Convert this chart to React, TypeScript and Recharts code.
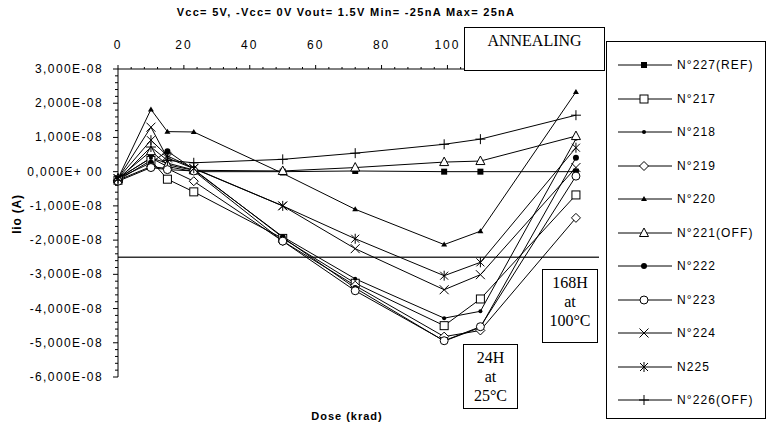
import React from "react";
import { LineChart, Line, XAxis, YAxis, ReferenceLine } from "recharts";

// dose (krad); the last two points are the annealing steps
const DOSE = [0, 10, 15, 23, 50, 72, 99, 110, 139];

// Iio in nA (1 nA = 1E-09 A)
const N227_REF = [-2, 4, 1.5, 0, 0, 0.2, 0, 0, 0];
const N217 = [-2.5, 3.3, -2.2, -5.9, -19.5, -32.6, -45, -37.2, -6.8];
const N218 = [-2, 4, 2.5, 0.5, -19, -31.3, -42.8, -40.8, 9.6];
const N219 = [-2.5, 1.5, 0.9, -2.8, -20.3, -33.3, -48.2, -46.4, -13.5];
const N220 = [-2, 18.2, 11.7, 11.6, -0.5, -11, -21.3, -17.4, 23.3];
const N221_OFF = [-2, 6, 2, 0.4, 0.2, 1.2, 2.8, 3.1, 10.4];
const N222 = [-2, 2.6, 6, 0.7, -19.2, -34, -49.5, -45.5, 4.1];
const N223 = [-2.8, 1.2, 0.6, 0.2, -20.3, -34.8, -49.4, -45.3, -1.3];
const N224 = [-2, 13, 4, 0.9, -10, -22.5, -34.5, -30.1, 1.2];
const N225 = [-2, 9.2, 4.6, 1, -10, -19.6, -30.4, -26.5, 7];
const N226_OFF = [-2.5, 7.2, 3.3, 2.6, 3.6, 5.4, 8, 9.5, 16.5];

const MIN_LIMIT = -25;

const X_LABELED = [0, 20, 40, 60, 80, 100];
const Y_MAJOR = [30, 20, 10, 0, -10, -20, -30, -40, -50, -60];
const Y_LABELS = [
  "3,000E-08",
  "2,000E-08",
  "1,000E-08",
  "0,000E+ 00",
  "-1,000E-08",
  "-2,000E-08",
  "-3,000E-08",
  "-4,000E-08",
  "-5,000E-08",
  "-6,000E-08",
];

const SERIES = [
  { key: "n227", name: "N°227(REF)", values: N227_REF, marker: "sqFill" },
  { key: "n217", name: "N°217", values: N217, marker: "sqOpen" },
  { key: "n218", name: "N°218", values: N218, marker: "dotSmall" },
  { key: "n219", name: "N°219", values: N219, marker: "diamond" },
  { key: "n220", name: "N°220", values: N220, marker: "triSmall" },
  { key: "n221", name: "N°221(OFF)", values: N221_OFF, marker: "triOpen" },
  { key: "n222", name: "N°222", values: N222, marker: "dotBig" },
  { key: "n223", name: "N°223", values: N223, marker: "circleOpen" },
  { key: "n224", name: "N°224", values: N224, marker: "cross" },
  { key: "n225", name: "N225", values: N225, marker: "asterisk" },
  { key: "n226", name: "N°226(OFF)", values: N226_OFF, marker: "plus" },
];

const rows = DOSE.map((d, i) => {
  const r: Record<string, number> = { dose: d };
  SERIES.forEach((s) => (r[s.key] = s.values[i]));
  return r;
});

const X_TICKS: number[] = [];
for (let v = 0; v <= 144; v += 4) X_TICKS.push(v);
const Y_TICKS: number[] = [];
for (let v = -60; v <= 30; v += 2) Y_TICKS.push(v);

const SANS = "'Liberation Sans', Arial, sans-serif";
const SERIF = "'Liberation Serif', 'Times New Roman', serif";

function Marker({ kind, cx, cy }: { kind: string; cx: number; cy: number }) {
  if (cx == null || cy == null) return null;
  const k = "#000";
  switch (kind) {
    case "sqFill":
      return <rect x={cx - 3} y={cy - 3} width={6} height={6} fill={k} />;
    case "sqOpen":
      return <rect x={cx - 4} y={cy - 4} width={8} height={8} fill="#fff" stroke={k} />;
    case "dotSmall":
      return <circle cx={cx} cy={cy} r={2} fill={k} />;
    case "diamond":
      return (
        <polygon
          points={`${cx},${cy - 4.5} ${cx + 4.5},${cy} ${cx},${cy + 4.5} ${cx - 4.5},${cy}`}
          fill="#fff"
          stroke={k}
        />
      );
    case "triSmall":
      return <polygon points={`${cx},${cy - 3} ${cx + 3},${cy + 2} ${cx - 3},${cy + 2}`} fill={k} />;
    case "triOpen":
      return (
        <polygon
          points={`${cx},${cy - 5} ${cx + 4.5},${cy + 3.5} ${cx - 4.5},${cy + 3.5}`}
          fill="#fff"
          stroke={k}
        />
      );
    case "dotBig":
      return <circle cx={cx} cy={cy} r={3} fill={k} />;
    case "circleOpen":
      return <circle cx={cx} cy={cy} r={4} fill="#fff" stroke={k} />;
    case "cross":
      return (
        <g stroke={k}>
          <line x1={cx - 4.5} y1={cy - 4.5} x2={cx + 4.5} y2={cy + 4.5} />
          <line x1={cx - 4.5} y1={cy + 4.5} x2={cx + 4.5} y2={cy - 4.5} />
        </g>
      );
    case "asterisk":
      return (
        <g stroke={k}>
          <line x1={cx - 4} y1={cy - 4} x2={cx + 4} y2={cy + 4} />
          <line x1={cx - 4} y1={cy + 4} x2={cx + 4} y2={cy - 4} />
          <line x1={cx} y1={cy - 5} x2={cx} y2={cy + 5} />
        </g>
      );
    case "plus":
      return (
        <g stroke={k}>
          <line x1={cx - 5} y1={cy} x2={cx + 5} y2={cy} />
          <line x1={cx} y1={cy - 5} x2={cx} y2={cy + 5} />
        </g>
      );
    default:
      return null;
  }
}

function XTick(props: any) {
  const { x, y, payload } = props;
  const v = payload.value;
  const major = v % 20 === 0;
  return (
    <g>
      <line x1={x} x2={x} y1={y} y2={y - (major ? 4 : 2)} stroke="#000" />
      {X_LABELED.includes(v) && (
        <text x={x} y={y - 20} textAnchor="middle" fontSize={12} fontFamily={SANS} letterSpacing={2} fill="#000">
          {v}
        </text>
      )}
    </g>
  );
}

function YTick(props: any) {
  const { x, y, payload } = props;
  const v = payload.value;
  const idx = Y_MAJOR.indexOf(v);
  return (
    <g>
      <line x1={x} x2={x - (idx >= 0 ? 5 : 3)} y1={y} y2={y} stroke="#000" />
      {idx >= 0 && (
        <text x={x - 15} y={y + 4} textAnchor="end" fontSize={12} fontFamily={SANS} letterSpacing={1.4} fill="#000">
          {Y_LABELS[idx]}
        </text>
      )}
    </g>
  );
}

const boxStyle: React.CSSProperties = {
  position: "absolute",
  boxSizing: "border-box",
  border: "1.5px solid #000",
  background: "#fff",
  fontFamily: SERIF,
  fontSize: 16,
  textAlign: "center",
  color: "#000",
};

export default function App() {
  return (
    <div style={{ position: "absolute", left: 0, top: 0, width: 771, height: 426, background: "#fff" }}>
      <LineChart width={771} height={426} data={rows} margin={{ top: 39, right: 172, bottom: 49, left: 0 }}>
        <XAxis
          xAxisId={0}
          type="number"
          dataKey="dose"
          orientation="top"
          domain={[0, 146]}
          ticks={X_TICKS}
          interval={0}
          height={30}
          tickSize={0}
          tickMargin={0}
          tickLine={false}
          tick={<XTick />}
          axisLine={{ stroke: "#000" }}
        />
        <YAxis
          yAxisId={0}
          type="number"
          domain={[-60, 30]}
          ticks={Y_TICKS}
          interval={0}
          width={118}
          tickSize={0}
          tickMargin={0}
          tickLine={false}
          tick={<YTick />}
          axisLine={{ stroke: "#000" }}
        />
        <ReferenceLine y={MIN_LIMIT} stroke="#333" strokeWidth={1.5} />
        {SERIES.map((s) => (
          <Line
            key={s.key}
            dataKey={s.key}
            name={s.name}
            stroke="#000"
            strokeWidth={1}
            isAnimationActive={false}
            activeDot={false}
            dot={(p: any) => <Marker key={`${s.key}-${p.index}`} kind={s.marker} cx={p.cx} cy={p.cy} />}
          />
        ))}
      </LineChart>

      <div
        style={{
          position: "absolute",
          left: 346,
          top: 6,
          transform: "translateX(-50%)",
          whiteSpace: "nowrap",
          fontFamily: SANS,
          fontWeight: "bold",
          fontSize: 11,
          letterSpacing: 1.3,
        }}
      >
        Vcc= 5V, -Vcc= 0V Vout= 1.5V Min= -25nA Max= 25nA
      </div>

      <div
        style={{
          position: "absolute",
          left: 17,
          top: 214,
          transform: "translate(-50%, -50%) rotate(-90deg)",
          whiteSpace: "nowrap",
          fontFamily: SANS,
          fontWeight: "bold",
          fontSize: 12,
          letterSpacing: 0.8,
        }}
      >
        Iio (A)
      </div>

      <div
        style={{
          position: "absolute",
          left: 347,
          top: 416,
          transform: "translate(-50%, -50%)",
          whiteSpace: "nowrap",
          fontFamily: SANS,
          fontWeight: "bold",
          fontSize: 11,
          letterSpacing: 1,
        }}
      >
        Dose (krad)
      </div>

      <div style={{ ...boxStyle, left: 464, top: 27, width: 141, height: 44, lineHeight: "18px", paddingTop: 4 }}>
        ANNEALING
      </div>
      <div style={{ ...boxStyle, left: 463, top: 344, width: 55, height: 65, lineHeight: "19px", paddingTop: 3 }}>
        24H
        <br />
        at
        <br />
        25°C
      </div>
      <div style={{ ...boxStyle, left: 542, top: 269, width: 56, height: 74, lineHeight: "19px", paddingTop: 3 }}>
        168H
        <br />
        at
        <br />
        100°C
      </div>

      <div
        style={{
          position: "absolute",
          left: 606,
          top: 41,
          width: 160,
          height: 378,
          boxSizing: "border-box",
          border: "1px solid #000",
          background: "#fff",
        }}
      >
        {SERIES.map((s, i) => (
          <div key={s.key} style={{ position: "absolute", left: 10, top: 15 + i * 33.5, height: 16, width: 148 }}>
            <svg width={60} height={16} style={{ position: "absolute", left: 0, top: 0 }}>
              <line x1={1} x2={55} y1={8} y2={8} stroke="#000" />
              <Marker kind={s.marker} cx={27} cy={8} />
            </svg>
            <span
              style={{
                position: "absolute",
                left: 60,
                top: 0,
                lineHeight: "16px",
                fontFamily: SANS,
                fontSize: 12,
                letterSpacing: 1.1,
                whiteSpace: "nowrap",
              }}
            >
              {s.name}
            </span>
          </div>
        ))}
      </div>
    </div>
  );
}
